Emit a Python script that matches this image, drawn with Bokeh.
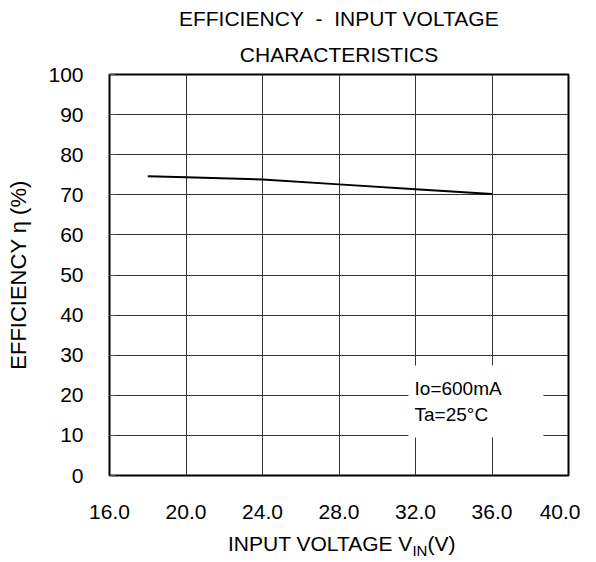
from bokeh.plotting import figure
from bokeh.models import Range1d, FixedTicker, Label, NumeralTickFormatter, ColumnDataSource, Title, Div
from bokeh.layouts import column
from bokeh.embed import file_html
from bokeh.resources import INLINE

# data
vin = [18.0, 20.0, 24.0, 28.0, 32.0, 36.0]
efficiency = [74.6, 74.4, 73.8, 72.6, 71.4, 70.2]
x_ticks = [16, 20, 24, 28, 32, 36, 40]
y_ticks = [0, 10, 20, 30, 40, 50, 60, 70, 80, 90, 100]
title_lines = ["EFFICIENCY\u00a0 -\u00a0 INPUT VOLTAGE", "CHARACTERISTICS"]
note_lines = ["Io=600mA", "Ta=25°C"]
y_label = "EFFICIENCY η (%)"
x_label_parts = ["INPUT VOLTAGE V", "IN", "(V)"]

FONT = "Liberation Sans"

p = figure(width=580, height=532, output_backend="svg", toolbar_location=None,
           x_range=Range1d(16, 40), y_range=Range1d(0, 100),
           min_border_left=109, min_border_right=12, min_border_top=74, min_border_bottom=57)

p.background_fill_color = "white"
p.border_fill_color = "white"
p.outline_line_color = "black"
p.outline_line_width = 2

p.xaxis.ticker = FixedTicker(ticks=x_ticks)
p.yaxis.ticker = FixedTicker(ticks=y_ticks)
p.xgrid.ticker = FixedTicker(ticks=x_ticks)
p.ygrid.ticker = FixedTicker(ticks=y_ticks)
p.xaxis.formatter = NumeralTickFormatter(format="0.0")
p.yaxis.formatter = NumeralTickFormatter(format="0")
for ax in (p.xaxis[0], p.yaxis[0]):
    ax.axis_line_color = None
    ax.major_tick_out = 0
    ax.minor_tick_line_color = None
    ax.major_label_text_font = FONT
    ax.major_label_text_font_size = "21px"
    ax.major_label_text_color = "black"
p.xaxis.major_label_standoff = 29
p.yaxis.major_label_standoff = 26
p.xaxis.major_tick_in = 0
p.yaxis.major_tick_in = 6
p.yaxis.major_tick_line_color = "#555555"

p.yaxis.axis_label = y_label
p.yaxis.axis_label_text_font = FONT
p.yaxis.axis_label_text_font_size = "22px"
p.yaxis.axis_label_text_font_style = "normal"
p.yaxis.axis_label_text_color = "black"
p.yaxis.axis_label_standoff = 14

p.grid.grid_line_color = "#333333"
p.grid.grid_line_width = 1

# titles (added nearest-first)
p.add_layout(Title(text=title_lines[1], align="center", text_font=FONT, text_font_size="21px",
                   text_font_style="normal", text_color="black", standoff=18), "above")
p.add_layout(Title(text=title_lines[0], align="center", text_font=FONT, text_font_size="21px",
                   text_font_style="normal", text_color="black", standoff=3), "above")

# white box behind the note
p.quad(left=[31.63], right=[38.69], bottom=[9.48], top=[27.43],
       fill_color="white", line_color=None)

src = ColumnDataSource(dict(x=vin, y=efficiency))
p.line("x", "y", source=src, line_color="black", line_width=2)

for text, yy in zip(note_lines, [21.7, 15.2]):
    p.add_layout(Label(x=31.95, y=yy, text=text, text_font=FONT, text_font_size="19px",
                       text_align="left", text_baseline="alphabetic", text_color="black"))

xlab = Div(
    text=(
        '<div style="padding-left:228px; white-space:nowrap; font-family:\'Liberation Sans\'; '
        'font-size:21px; line-height:24px; color:black;">'
        f'{x_label_parts[0]}<span style="font-size:15px; position:relative; top:5px;">{x_label_parts[1]}</span>'
        f'{x_label_parts[2]}</div>'
    ),
    width=580, height=30, margin=(0, 0, 0, 0),
)

layout = column(p, xlab, spacing=0)

open("out.html", "w").write(file_html(layout, INLINE))
